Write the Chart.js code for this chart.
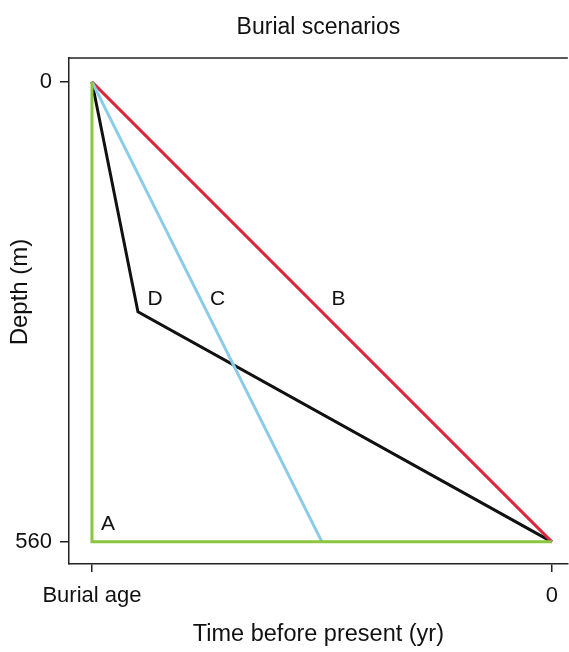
<!DOCTYPE html>
<html>
<head>
<meta charset="utf-8">
<script src="https://cdn.jsdelivr.net/npm/chart.js@4"></script>
<style>
  body { margin: 0; background: #fff; }
</style>
</head>
<body>
<canvas id="burialChart" width="569" height="652"></canvas>
<script>
// x = fraction of the burial age before present (1 = burial age, 0 = today)
// y = depth in metres
var scenarioA = [{x: 1, y: 0}, {x: 1, y: 560}, {x: 0, y: 560}];
var scenarioB = [{x: 1, y: 0}, {x: 0, y: 560}];
var scenarioC = [{x: 1, y: 0}, {x: 0.5, y: 560}];
var scenarioD = [{x: 1, y: 0}, {x: 0.9, y: 280}, {x: 0, y: 560}];

var xTickValues = [1, 0];
var xTickLabels = ["Burial age", "0"];
var yTickValues = [0, 560];

// where the scenario letters sit, in data units
var labelNames = ["A", "B", "C", "D"];
var labelX = [0.965, 0.464, 0.727, 0.863];
var labelY = [539, 265, 265, 265];

var font = "'Liberation Sans', Arial, sans-serif";

var extraText = {
  id: "extraText",
  afterDraw: function(chart) {
    var ctx = chart.ctx;
    var area = chart.chartArea;
    var xs = chart.scales.x, ys = chart.scales.y;
    ctx.save();
    // top frame line
    ctx.strokeStyle = "#222";
    ctx.lineWidth = 1.5;
    ctx.beginPath();
    ctx.moveTo(area.left, area.top);
    ctx.lineTo(area.right, area.top);
    ctx.stroke();

    ctx.fillStyle = "#111";
    ctx.textAlign = "center";
    ctx.textBaseline = "middle";
    ctx.font = "23px " + font;
    ctx.fillText("Burial scenarios", (area.left + area.right) / 2, 28);

    ctx.font = "21px " + font;
    for (var i = 0; i < labelNames.length; i++) {
      ctx.fillText(labelNames[i], xs.getPixelForValue(labelX[i]), ys.getPixelForValue(labelY[i]));
    }

    ctx.translate(20, 292);
    ctx.rotate(-Math.PI / 2);
    ctx.font = "24px " + font;
    ctx.fillText("Depth (m)", 0, 0);
    ctx.restore();
  }
};

function line(data, color) {
  return {
    data: data,
    showLine: true,
    borderColor: color,
    backgroundColor: color,
    borderWidth: 3,
    pointRadius: 0,
    fill: false,
    tension: 0
  };
}

new Chart("burialChart", {
  type: "scatter",
  data: {
    datasets: [
      line(scenarioA, "#8cc63f"),
      line(scenarioC, "#88cbea"),
      line(scenarioB, "#d8283c"),
      line(scenarioD, "#111111")
    ]
  },
  options: {
    responsive: false,
    animation: false,
    layout: {padding: {top: 58, right: 0, left: 0, bottom: 0}},
    plugins: {
      legend: {display: false},
      title: {display: false},
      tooltip: {enabled: false}
    },
    scales: {
      x: {
        type: "linear",
        reverse: true,
        min: -0.0347,
        max: 1.0499,
        afterBuildTicks: function(scale) {
          scale.ticks = xTickValues.map(function(v) { return {value: v}; });
        },
        afterFit: function(scale) { scale.height = 88; },
        ticks: {
          color: "#111",
          font: {family: font, size: 22},
          padding: 11,
          maxRotation: 0,
          callback: function(v) {
            var i = xTickValues.indexOf(v);
            return i >= 0 ? xTickLabels[i] : "";
          }
        },
        grid: {drawOnChartArea: false, color: "#222", tickLength: 8, lineWidth: 1.5},
        border: {display: true, color: "#222", width: 1.5},
        title: {
          display: true,
          text: "Time before present (yr)",
          color: "#111",
          font: {family: font, size: 23.5},
          padding: {top: 0, bottom: 3}
        }
      },
      y: {
        type: "linear",
        reverse: true,
        min: -29,
        max: 587,
        afterBuildTicks: function(scale) {
          scale.ticks = yTickValues.map(function(v) { return {value: v}; });
        },
        afterFit: function(scale) { scale.width = 69; },
        ticks: {
          color: "#111",
          font: {family: font, size: 22},
          padding: 8
        },
        grid: {drawOnChartArea: false, color: "#222", tickLength: 9, lineWidth: 1.5},
        border: {display: true, color: "#222", width: 1.5}
      }
    }
  },
  plugins: [extraText]
});
</script>
</body>
</html>
